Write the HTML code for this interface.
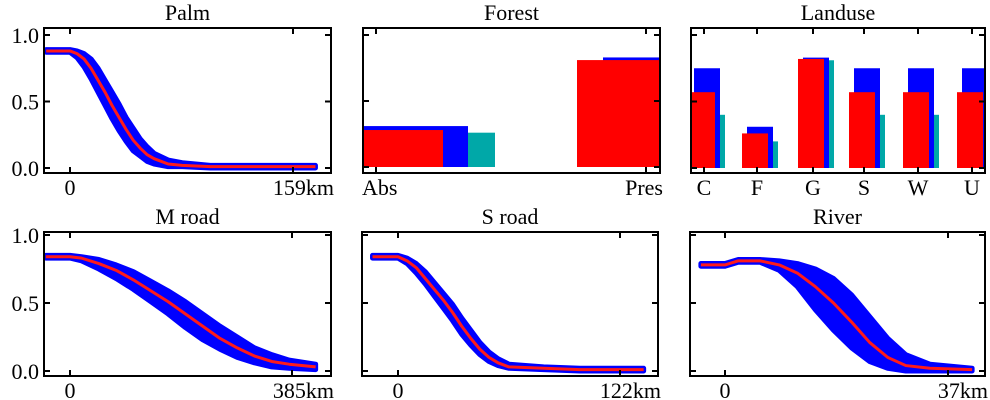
<!DOCTYPE html>
<html><head><meta charset="utf-8"><style>
body{margin:0;background:#fff;}
svg{display:block;font-family:"Liberation Serif",serif;}
</style></head><body>
<svg id="c" width="990" height="400"></svg>
<script>
// ---- data ----
const palmX=[-17,0,5,10,15,20,25,30,35,40,45,50,55,60,70,80,100,130,175];
const palmMean=[.88,.88,.86,.82,.75,.66,.57,.47,.38,.29,.21,.15,.10,.07,.03,.02,.01,.01,.01];
const palmLo=[.87,.87,.83,.76,.67,.57,.47,.37,.28,.20,.13,.09,.05,.03,.01,.01,.0,.0,.0];
const palmHi=[.89,.89,.88,.86,.82,.75,.66,.57,.48,.38,.30,.22,.16,.11,.06,.04,.02,.02,.02];
const mroadX=[-42,0,20,50,80,110,140,170,200,230,260,290,320,350,380,426];
const mroadMean=[.84,.84,.83,.79,.74,.67,.59,.51,.42,.33,.24,.17,.11,.07,.05,.03];
const mroadLo=[.83,.83,.81,.75,.68,.60,.51,.42,.32,.23,.16,.10,.06,.03,.02,.01];
const mroadHi=[.85,.85,.84,.82,.78,.73,.66,.59,.51,.42,.33,.25,.17,.12,.08,.05];
const sroadX=[-14,0,5,10,15,20,25,30,35,40,45,50,55,61,80,100,135];
const sroadMean=[.84,.84,.81,.76,.68,.60,.52,.43,.33,.24,.16,.10,.06,.03,.02,.01,.01];
const sroadLo=[.83,.83,.79,.72,.64,.55,.46,.37,.27,.19,.12,.07,.04,.02,.01,.0,.0];
const sroadHi=[.85,.85,.83,.79,.73,.65,.57,.49,.39,.30,.21,.14,.09,.05,.03,.02,.02];
const riverX=[-4,0,2.2,5.8,9,12,15,18,21,24,27,30,34,41];
const riverMean=[.78,.78,.81,.81,.78,.72,.62,.50,.36,.21,.10,.04,.02,.01];
const riverLo=[.77,.77,.80,.80,.74,.62,.45,.30,.17,.07,.02,.0,.0,.0];
const riverHi=[.79,.79,.82,.82,.81,.79,.75,.68,.56,.40,.24,.12,.05,.02];
const forestCats=["Abs","Pres"];
const forestRed=[.28,.81];
const forestBlue=[.31,.83];
const forestTeal=[.26,0];
const landCats=["C","F","G","S","W","U"];
const landRed=[.57,.26,.82,.57,.57,.57];
const landBlue=[.75,.31,.83,.75,.75,.75];
const landTeal=[.4,.2,.81,.4,.4,.4];
const yTicks=[0,0.5,1.0];
const yTickLabels=["0.0","0.5","1.0"];

const FS=22;
const NS="http://www.w3.org/2000/svg";
const svg=document.getElementById('c');
function el(tag,attrs,parent){const e=document.createElementNS(NS,tag);for(const k in attrs)e.setAttribute(k,attrs[k]);(parent||svg).appendChild(e);return e;}
function txt(s,x,y,anchor,parent){const t=el('text',{x:x,y:y,'text-anchor':anchor,'font-size':FS,fill:'#000'},parent);t.textContent=s;return t;}

function panel(name,title,box,yTop,yBot){
  const g=el('g',{});
  
  
  const t=txt(title,(box.x0+box.x1)/2,box.y0-8,'middle',g);
  
  
  const ys=v=>yBot+(yTop-yBot)*v;
  return {g,ys};
}
function frame(g,box,ys,xticks,xlabels,showY,name){
  const r=el('rect',{x:box.x0,y:box.y0,width:box.x1-box.x0,height:box.y1-box.y0,fill:'none',stroke:'#000','stroke-width':2},g);
  
  
  yTicks.forEach((v,i)=>{
    const y=ys(v);
    el('line',{x1:box.x0,x2:box.x0+6,y1:y,y2:y,stroke:'#000','stroke-width':2},g);
    el('line',{x1:box.x1,x2:box.x1-6,y1:y,y2:y,stroke:'#000','stroke-width':2},g);
    if(showY){const t=txt(yTickLabels[i],box.x0-5,y+8,'end',g);
      
      }
  });
  xticks.forEach((x)=>{
    el('line',{x1:x,x2:x,y1:box.y1,y2:box.y1-6,stroke:'#000','stroke-width':2},g);
    el('line',{x1:x,x2:x,y1:box.y0,y2:box.y0+6,stroke:'#000','stroke-width':2},g);
  });
  xlabels.forEach(l=>{const t=txt(l.s,l.x,box.y1+22,l.a,g);
    
    });
}
function curvePanel(name,title,box,x0px,xEndPx,xEndKm,kmLabel,X,M,L,H,showY,yTop,yBot){
  const p=panel(name,title,box,yTop,yBot);
  const xs=v=>x0px+(xEndPx-x0px)*v/xEndKm;
  let pts=X.map((x,i)=>xs(x)+','+p.ys(H[i]));
  for(let i=X.length-1;i>=0;i--)pts.push(xs(X[i])+','+p.ys(L[i]));
  const band=el('polygon',{points:pts.join(' '),fill:'#0000ff',stroke:'#0000ff','stroke-width':5,'stroke-linejoin':'round'},p.g);
  
  
  const line=el('polyline',{points:X.map((x,i)=>xs(x)+','+p.ys(M[i])).join(' '),fill:'none',stroke:'#ff1a1a','stroke-width':3,'stroke-linejoin':'round'},p.g);
  
  
  frame(p.g,box,p.ys,[xs(0),xs(xEndKm)],[{s:'0',x:xs(0),a:'middle'},{s:kmLabel,x:box.x1+3,a:'end'}],showY,name);
}
const topRow={y0:28,y1:173},botRow={y0:232,y1:376};
curvePanel('palm','Palm',{x0:44,x1:331,...topRow},70,293,159,'159km',palmX,palmMean,palmLo,palmHi,true,35,168);
curvePanel('m-road','M road',{x0:44,x1:331,...botRow},70,292,385,'385km',mroadX,mroadMean,mroadLo,mroadHi,true,235,371);
curvePanel('s-road','S road',{x0:362,x1:658,...botRow},398,620,122,'122km',sroadX,sroadMean,sroadLo,sroadHi,false,235,371);
curvePanel('river','River',{x0:690,x1:985,...botRow},725,948,37,'37km',riverX,riverMean,riverLo,riverHi,false,235,371);

// Forest
(function(){
  const box={x0:363,x1:660,...topRow};
  const p=panel('forest','Forest',box,35,167);
  const geom=[[[363,132],[363,105],[363,80]],[[603,57],[603,57],[577,83]]];
  forestCats.forEach((c,i)=>{
    const base=p.ys(0);
    [[forestTeal[i],'#00a8a8'],[forestBlue[i],'#0000ff'],[forestRed[i],'#ff0000']].forEach(([v,col],k)=>{ if(v<=0)return;
      const r=el('rect',{x:geom[i][k][0],y:p.ys(v),width:geom[i][k][1],height:base-p.ys(v),fill:col},p.g);
      
      });
  });
  frame(p.g,box,p.ys,[376,646],[{s:'Abs',x:362,a:'start'},{s:'Pres',x:663,a:'end'}],false,'forest');
})();
// Landuse
(function(){
  const box={x0:691,x1:985,...topRow};
  const p=panel('landuse','Landuse',box,35,168);
  const cx=[704,757,813,864,918,972];
  const clip=el('clipPath',{id:'lc'},p.g);el('rect',{x:box.x0,y:box.y0,width:box.x1-box.x0,height:box.y1-box.y0},clip);
  const gg=el('g',{'clip-path':'url(#lc)'},p.g);
  landCats.forEach((c,i)=>{
    const base=p.ys(0),x=cx[i];
    [[landTeal[i],'#00a8a8',x-5,26],[landBlue[i],'#0000ff',x-10,26],[landRed[i],'#ff0000',x-15,26]].forEach(([v,col,bx,w])=>{
      const r=el('rect',{x:bx,y:p.ys(v),width:w,height:base-p.ys(v),fill:col},gg);
      
      });
  });
  frame(p.g,box,p.ys,cx,landCats.map((c,i)=>({s:c,x:cx[i],a:'middle'})),false,'landuse');
})();
</script>
</body></html>
